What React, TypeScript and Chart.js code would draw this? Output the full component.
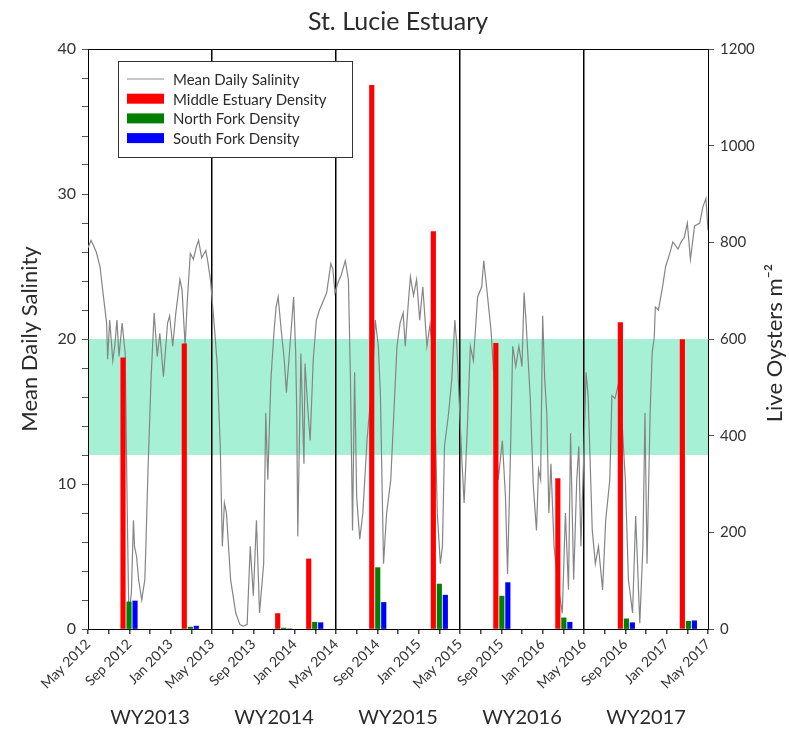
import React, { useEffect, useRef } from 'react';
import { Chart, registerables } from 'chart.js';

Chart.register(...registerables);

// ---------- data ----------
const tickLabels = [
  'May 2012', 'Sep 2012', 'Jan 2013', 'May 2013', 'Sep 2013', 'Jan 2014', 'May 2014', 'Sep 2014',
  'Jan 2015', 'May 2015', 'Sep 2015', 'Jan 2016', 'May 2016', 'Sep 2016', 'Jan 2017', 'May 2017',
];
const waterYears = ['WY2013', 'WY2014', 'WY2015', 'WY2016', 'WY2017'];

// months since 1 May 2012
const salMonths = [
  0, 0.3, 0.5, 0.8, 1.16, 1.5, 1.8, 1.9, 2.1, 2.4, 2.6, 2.8, 3.0, 3.3, 3.6, 3.8, 3.95, 4.2, 4.4, 4.5,
  4.7, 4.9, 5.2, 5.5, 5.6, 5.8, 6.1, 6.4, 6.7, 6.95, 7.3, 7.7, 7.9, 8.2, 8.5, 8.9, 9.1, 9.4, 9.6, 9.9,
  10.2, 10.5, 10.7, 11.0, 11.4, 11.6, 11.85, 12.2, 12.5, 12.8, 13.0, 13.2, 13.4, 13.8, 14.3, 14.7, 15.0, 15.4,
  15.7, 16.0, 16.3, 16.6, 17.0, 17.2, 17.4, 17.7, 18.0, 18.2, 18.4, 18.7, 19.0, 19.2, 19.5, 19.9, 20.1, 20.2,
  20.3, 20.6, 20.9, 21.0, 21.3, 21.5, 21.8, 22.1, 22.4, 22.7, 23.1, 23.5, 23.7, 23.9, 24.2, 24.5, 24.9, 25.2,
  25.4, 25.6, 25.8, 26.0, 26.3, 26.6, 27.0, 27.3, 27.5, 27.8, 28.1, 28.3, 28.6, 28.9, 29.3, 29.6, 29.9, 30.2,
  30.5, 30.7, 31.0, 31.2, 31.5, 31.8, 32.1, 32.4, 32.8, 33.1, 33.5, 33.8, 34.1, 34.3, 34.5, 34.9, 35.2, 35.5,
  35.7, 35.9, 36.2, 36.4, 36.7, 37.0, 37.3, 37.7, 38.1, 38.3, 38.6, 39.0, 39.3, 39.7, 40.1, 40.4, 40.6, 40.9,
  41.1, 41.4, 41.7, 42.0, 42.2, 42.4, 42.8, 43.1, 43.4, 43.6, 43.8, 44.0, 44.2, 44.4, 44.6, 44.8, 45.1, 45.5,
  45.9, 46.2, 46.5, 46.7, 47.0, 47.3, 47.5, 47.7, 48.0, 48.2, 48.4, 48.8, 49.1, 49.4, 49.8, 50.1, 50.5, 50.7,
  51.0, 51.3, 51.7, 52.0, 52.3, 52.7, 53.0, 53.4, 53.7, 53.9, 54.1, 54.4, 54.6, 54.8, 54.9, 55.2, 55.6, 55.9,
  56.3, 56.6, 57.1, 57.4, 57.7, 58.0, 58.3, 58.7, 59.2, 59.5, 59.8, 60.0,
];
const salValues = [
  26.3, 26.8, 26.5, 26.0, 25.0, 22.9, 21.1, 18.6, 21.3, 18.5, 19.6, 21.3, 18.8, 21.1, 19.0, 8.0, 1.0, 2.5, 7.5, 5.7,
  5.0, 3.4, 2.0, 3.4, 5.7, 10.8, 17.2, 21.8, 18.8, 20.4, 17.4, 21.1, 21.6, 19.5, 21.8, 24.1, 23.4, 19.5, 22.5, 25.9,
  25.5, 26.4, 26.8, 25.6, 26.1, 25.3, 24.1, 21.1, 18.3, 12.6, 5.7, 8.7, 8.0, 3.4, 1.1, 0.3, 0.2, 0.3,
  5.7, 2.3, 7.5, 1.1, 4.5, 14.9, 10.3, 17.2, 20.5, 22.2, 22.9, 20.6, 18.5, 16.3, 19.1, 22.9, 19.0, 14.9,
  6.4, 19.0, 11.4, 18.3, 14.9, 13.0, 18.6, 21.3, 22.0, 22.5, 23.2, 25.2, 24.8, 23.2, 23.9, 24.4, 25.4, 24.1,
  17.2, 6.8, 17.7, 9.1, 6.2, 8.0, 13.0, 15.5, 17.0, 21.3, 19.5, 16.1, 4.5, 8.0, 10.3, 14.9, 19.5, 21.1,
  21.8, 19.5, 22.5, 24.3, 23.0, 24.1, 21.3, 23.6, 19.5, 21.0, 17.7, 8.0, 4.5, 5.7, 12.6, 14.9, 17.2, 21.3,
  19.5, 16.1, 11.4, 8.7, 13.7, 19.5, 18.5, 22.9, 23.6, 25.4, 23.4, 20.6, 17.2, 10.3, 13.0, 9.1, 3.8, 12.6,
  19.5, 18.1, 19.5, 18.1, 23.2, 21.1, 15.9, 9.8, 6.8, 11.0, 10.3, 21.6, 17.2, 14.9, 8.0, 11.4, 5.7, 3.0,
  1.1, 8.0, 2.7, 13.5, 3.4, 10.3, 12.6, 5.7, 12.6, 17.7, 16.1, 6.8, 4.5, 5.7, 2.7, 7.5, 10.3, 16.1,
  15.9, 16.8, 14.0, 10.3, 3.4, 1.1, 7.8, 0.4, 5.7, 14.9, 4.5, 14.9, 19.1, 20.1, 22.2, 22.0, 23.6, 25.0,
  25.9, 26.7, 26.2, 26.7, 27.0, 28.0, 25.5, 27.8, 28.0, 29.1, 29.7, 27.5,
];

// oyster surveys (months since 1 May 2012)
const surveyMonths = [3.97, 9.9, 18.94, 21.94, 28.04, 34.0, 40.05, 46.05, 52.1, 58.1];
const middleDensity = [561, 590, 32, 145, 1125, 822, 591, 311, 634, 599];
const northDensity = [56, 4, 2, 14, 127, 93, 68, 23, 21, 16];
const southDensity = [58, 6, 0, 13, 55, 70, 96, 14, 13, 17];

const targetLow = 12;
const targetHigh = 20;

const FONT = 'Lato, "Noto Sans", "DejaVu Sans", sans-serif';
const TEXT = '#2b2b2b';
const LINE_COLOR = '#858585';
const BAND_COLOR = '#a6f1d5';

const legendItems = [
  { label: 'Mean Daily Salinity', color: '#9a8a86', kind: 'line' },
  { label: 'Middle Estuary Density', color: '#ff0000', kind: 'bar' },
  { label: 'North Fork Density', color: '#008000', kind: 'bar' },
  { label: 'South Fork Density', color: '#0000ff', kind: 'bar' },
];

const extrasPlugin = {
  id: 'extras',
  beforeDraw(chart: any) {
    const { ctx, chartArea: a, scales } = chart;
    const y = scales.y;
    const top = y.getPixelForValue(targetHigh);
    const bot = y.getPixelForValue(targetLow);
    ctx.save();
    ctx.fillStyle = BAND_COLOR;
    ctx.fillRect(a.left, top, a.right - a.left, bot - top);
    ctx.restore();
  },
  afterDraw(chart: any) {
    const { ctx, chartArea: a, scales } = chart;
    ctx.save();
    // top border
    ctx.strokeStyle = '#000';
    ctx.lineWidth = 1;
    ctx.beginPath();
    ctx.moveTo(a.left, a.top + 0.5);
    ctx.lineTo(a.right, a.top + 0.5);
    ctx.stroke();

    // title
    ctx.fillStyle = TEXT;
    ctx.textAlign = 'center';
    ctx.textBaseline = 'middle';
    ctx.font = `25px ${FONT}`;
    ctx.fillText('St. Lucie Estuary', (a.left + a.right) / 2, 22);

    // axis titles
    const midY = (a.top + a.bottom) / 2;
    ctx.font = `22px ${FONT}`;
    ctx.save();
    ctx.translate(30, midY);
    ctx.rotate(-Math.PI / 2);
    ctx.fillText('Mean Daily Salinity', 0, 0);
    ctx.restore();
    ctx.save();
    ctx.translate(775, midY + 4);
    ctx.rotate(-Math.PI / 2);
    ctx.fillText('Live Oysters m\u207B\u00B2', 0, 0);
    ctx.restore();

    // water-year labels
    ctx.font = `20px ${FONT}`;
    waterYears.forEach((wy, i) => {
      const x = scales.x.getPixelForValue(6 + 12 * i);
      ctx.fillText(wy, x, 718);
    });

    // legend
    const lx = 118, ly = 61, lw = 234, lh = 96;
    ctx.fillStyle = '#fff';
    ctx.fillRect(lx, ly, lw, lh);
    ctx.strokeStyle = '#333';
    ctx.lineWidth = 1;
    ctx.strokeRect(lx + 0.5, ly + 0.5, lw, lh);
    ctx.font = `15px ${FONT}`;
    ctx.textAlign = 'left';
    legendItems.forEach((it, i) => {
      const cy = ly + 18 + i * 19.7;
      if (it.kind === 'line') {
        ctx.strokeStyle = it.color;
        ctx.lineWidth = 1;
        ctx.beginPath();
        ctx.moveTo(127, cy);
        ctx.lineTo(164, cy);
        ctx.stroke();
      } else {
        ctx.fillStyle = it.color;
        ctx.fillRect(127, cy - 5, 37, 10);
      }
      ctx.fillStyle = TEXT;
      ctx.fillText(it.label, 173, cy + 1);
    });
    ctx.restore();
  },
};

export default function App() {
  const canvasRef = useRef<HTMLCanvasElement | null>(null);

  useEffect(() => {
    const canvas = canvasRef.current;
    if (!canvas) return;

    const toPoints = (xs: number[], ys: number[]) => xs.map((x, i) => ({ x, y: ys[i] }));

    const barCommon = {
      type: 'bar' as const,
      yAxisID: 'y2',
      grouped: true,
      barThickness: 6,
      maxBarThickness: 4.5,
      borderWidth: 0,
      order: 0,
    };

    const chart = new Chart(canvas, {
      type: 'line',
      data: {
        datasets: [
          { ...barCommon, label: 'Middle Estuary Density', data: toPoints(surveyMonths, middleDensity), backgroundColor: '#ff0000' } as any,
          { ...barCommon, label: 'North Fork Density', data: toPoints(surveyMonths, northDensity), backgroundColor: '#008000' } as any,
          { ...barCommon, label: 'South Fork Density', data: toPoints(surveyMonths, southDensity), backgroundColor: '#0000ff' } as any,
          {
            type: 'line',
            label: 'Mean Daily Salinity',
            data: toPoints(salMonths, salValues),
            yAxisID: 'y',
            borderColor: LINE_COLOR,
            borderWidth: 1.2,
            pointRadius: 0,
            tension: 0,
            order: 1,
          },
        ],
      },
      options: {
        animation: false,
        responsive: false,
        devicePixelRatio: 1,
        layout: { padding: { top: 49, left: 0, right: 0, bottom: 0 } },
        plugins: {
          legend: { display: false },
          title: { display: false },
          tooltip: { enabled: false },
        },
        scales: {
          x: {
            type: 'linear',
            min: 0,
            max: 60,
            offset: false,
            afterFit: (s: any) => { s.height = 109; },
            ticks: {
              stepSize: 2,
              autoSkip: false,
              maxRotation: 45,
              minRotation: 45,
              padding: 2,
              color: '#333',
              font: { family: FONT, size: 14 },
              callback: (v: any) => (Number(v) % 4 === 0 ? tickLabels[Number(v) / 4] : ''),
            },
            grid: {
              offset: false,
              drawOnChartArea: true,
              drawTicks: true,
              tickLength: 5,
              tickColor: '#444',
              lineWidth: 1.5,
              color: (c: any) => {
                const v = c.tick ? c.tick.value : -1;
                return v > 0 && v < 60 && v % 12 === 0 ? '#000' : 'rgba(0,0,0,0)';
              },
            },
            border: { display: true, color: '#000', width: 1 },
          },
          y: {
            type: 'linear',
            position: 'left',
            min: 0,
            max: 40,
            afterFit: (s: any) => { s.width = 88; },
            ticks: {
              stepSize: 2,
              padding: 6,
              color: '#333',
              font: { family: FONT, size: 16 },
              callback: (v: any) => (Number(v) % 10 === 0 ? String(v) : ''),
            },
            grid: { drawOnChartArea: false, drawTicks: true, tickLength: 6, tickColor: '#555' },
            border: { display: true, color: '#000', width: 1 },
          },
          y2: {
            type: 'linear',
            position: 'right',
            min: 0,
            max: 1200,
            afterFit: (s: any) => { s.width = 81; },
            ticks: {
              stepSize: 200,
              padding: 6,
              color: '#333',
              font: { family: FONT, size: 15 },
              callback: (v: any) => String(v),
            },
            grid: { drawOnChartArea: false, drawTicks: true, tickLength: 6, tickColor: '#555' },
            border: { display: true, color: '#000', width: 1 },
          },
        },
      } as any,
      plugins: [extrasPlugin],
    });

    return () => chart.destroy();
  }, []);

  return (
    <div style={{ position: 'absolute', left: 0, top: 0, width: 789, height: 738, background: '#fff' }}>
      <canvas ref={canvasRef} width={789} height={738} style={{ display: 'block', width: 789, height: 738 }} />
    </div>
  );
}
